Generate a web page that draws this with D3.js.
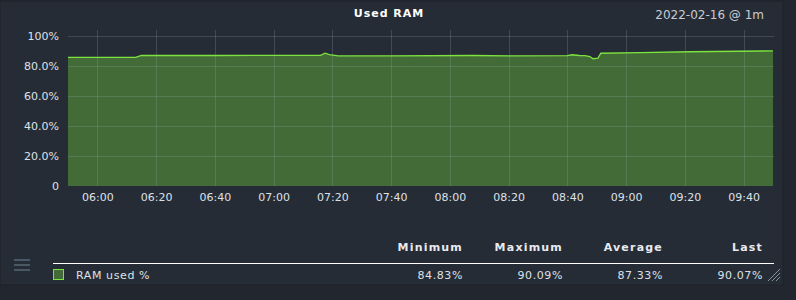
<!DOCTYPE html>
<html>
<head>
<meta charset="utf-8">
<script src="https://cdn.jsdelivr.net/npm/d3@7"></script>
<style>
  html, body { margin: 0; padding: 0; background: #22272f; }
  svg { display: block; font-family: "DejaVu Sans", sans-serif; }
</style>
</head>
<body>
<div class="graph"></div>
<script>
// RAM used % samples, [time, value]
const times = ["05:50", "06:13", "06:15", "06:40", "07:00", "07:16", "07:17.5", "07:19", "07:22", "07:40",
               "08:08", "08:20", "08:40", "08:41.6", "08:44", "08:46", "08:47.7", "08:48.7", "08:50.4",
               "08:51.4", "09:04.7", "09:21.7", "09:50"]
const values = [85.8, 85.8, 87.1, 87.0, 87.1, 87.1, 88.5, 87.6, 86.7, 86.8,
                87.0, 86.8, 86.9, 87.5, 87.0, 86.9, 86.3, 84.83, 85.3,
                88.5, 88.9, 89.5, 90.07]

const yTicks = [0, 20, 40, 60, 80, 100]
const xTicks = ["06:00", "06:20", "06:40", "07:00", "07:20", "07:40", "08:00", "08:20", "08:40", "09:00", "09:20", "09:40"]

const statHeaders = ["Minimum", "Maximum", "Average", "Last"]
const statValues = ["84.83%", "90.09%", "87.33%", "90.07%"]
const seriesName = "RAM used %"

const parse = s => {
    const [h, m] = s.split(":")
    return new Date(2022, 1, 16, +h, 0, 0, +m * 60000)
}
const data = times.map((t, i) => ({t: parse(t), v: values[i]}))

const width = 796, height = 300
const margin = {top: 36, right: 23, bottom: 114, left: 68}

const svg = d3.select(".graph").append("svg")
    .attr("width", width)
    .attr("height", height)

// panel
svg.append("rect")
    .attr("x", 0).attr("y", 1)
    .attr("width", 783).attr("height", 284)
    .attr("fill", "#262c36")
    .attr("stroke", "#1d2128")
    .attr("stroke-width", 1)

const x = d3.scaleTime()
    .domain([parse("05:50"), parse("09:50")])
    .range([margin.left, width - margin.right])

const y = d3.scaleLinear()
    .domain([0, 100])
    .range([height - margin.bottom, margin.top])

// area + line
svg.append("path")
    .datum(data)
    .attr("fill", "#436b37")
    .attr("d", d3.area().x(d => x(d.t)).y0(y(0)).y1(d => y(d.v)))

// grid
svg.append("g")
    .selectAll("line")
    .data(yTicks.filter(d => d > 0))
    .join("line")
    .attr("x1", margin.left).attr("x2", width - margin.right + 1)
    .attr("y1", d => y(d) + 0.5).attr("y2", d => y(d) + 0.5)
    .attr("stroke", "#a0b0c0")
    .attr("stroke-opacity", 0.22)

svg.append("g")
    .selectAll("line")
    .data(xTicks)
    .join("line")
    .attr("x1", d => Math.round(x(parse(d))) + 0.5).attr("x2", d => Math.round(x(parse(d))) + 0.5)
    .attr("y1", margin.top - 6).attr("y2", y(0))
    .attr("stroke", "#a0b0c0")
    .attr("stroke-opacity", 0.22)

svg.append("path")
    .datum(data)
    .attr("fill", "none")
    .attr("stroke", "#7ee33f")
    .attr("stroke-width", 1.3)
    .attr("d", d3.line().x(d => x(d.t)).y(d => y(d.v)))

// axes
const yAxis = g => g
    .attr("transform", `translate(${margin.left - 6}, 0)`)
    .call(d3.axisLeft(y).tickValues(yTicks).tickSize(0)
        .tickFormat(d => d === 0 ? "0" : d === 100 ? "100%" : d.toFixed(1) + "%"))
    .call(g => g.select(".domain").remove())

const xAxis = g => g
    .attr("transform", `translate(0, ${y(0) + 4})`)
    .call(d3.axisBottom(x).tickValues(xTicks.map(parse)).tickSize(0).tickFormat(d3.timeFormat("%H:%M")))
    .call(g => g.select(".domain").remove())

svg.append("g").call(yAxis)
    .selectAll("text")
    .attr("fill", "#dde1e6")
    .style("font-size", "11px")
    .style("font-family", "DejaVu Sans")

svg.append("g").call(xAxis)
    .selectAll("text")
    .attr("fill", "#dde1e6")
    .style("font-size", "11px")
    .style("font-family", "DejaVu Sans")

// title
svg.append("text")
    .attr("x", 389).attr("y", 17)
    .attr("text-anchor", "middle")
    .attr("fill", "#ffffff")
    .style("font-size", "11px")
    .style("font-weight", "bold")
    .style("letter-spacing", "1px")
    .text("Used RAM")

svg.append("text")
    .attr("x", 764).attr("y", 19)
    .attr("text-anchor", "end")
    .attr("fill", "#c8ccd2")
    .style("font-size", "12px")
    .text("2022-02-16 @ 1m")

// legend
const statX = [463, 563, 663, 763]

svg.append("g")
    .selectAll("text")
    .data(statHeaders)
    .join("text")
    .attr("x", (d, i) => statX[i]).attr("y", 251)
    .attr("text-anchor", "end")
    .attr("fill", "#e8eaee")
    .style("font-size", "11px")
    .style("font-weight", "bold")
    .style("letter-spacing", "1.2px")
    .text(d => d)

svg.append("line")
    .attr("x1", 53).attr("x2", 774)
    .attr("y1", 263.5).attr("y2", 263.5)
    .attr("stroke", "#ffffff")
    .attr("stroke-width", 1)

svg.append("g")
    .selectAll("text")
    .data(statValues)
    .join("text")
    .attr("x", (d, i) => statX[i]).attr("y", 279)
    .attr("text-anchor", "end")
    .attr("fill", "#dde1e6")
    .style("font-size", "11px")
    .style("letter-spacing", "0.6px")
    .text(d => d)

svg.append("rect")
    .attr("x", 53.5).attr("y", 269.5)
    .attr("width", 10).attr("height", 10)
    .attr("fill", "#436b37")
    .attr("stroke", "#7ee33f")

svg.append("text")
    .attr("x", 76).attr("y", 279)
    .attr("fill", "#dde1e6")
    .style("font-size", "11px")
    .style("letter-spacing", "0.6px")
    .text(seriesName)

// menu icon
svg.append("g")
    .selectAll("rect")
    .data([0, 1, 2])
    .join("rect")
    .attr("x", 14).attr("y", d => 259 + d * 5)
    .attr("width", 16).attr("height", 2)
    .attr("fill", "#4a5866")

// resize grip
svg.append("g")
    .selectAll("line")
    .data([0, 4, 8])
    .join("line")
    .attr("x1", d => 768 + d).attr("y1", 281)
    .attr("x2", 780).attr("y2", d => 269 + d)
    .attr("stroke", "#8a929c")
    .attr("stroke-width", 1)
</script>
</body>
</html>
